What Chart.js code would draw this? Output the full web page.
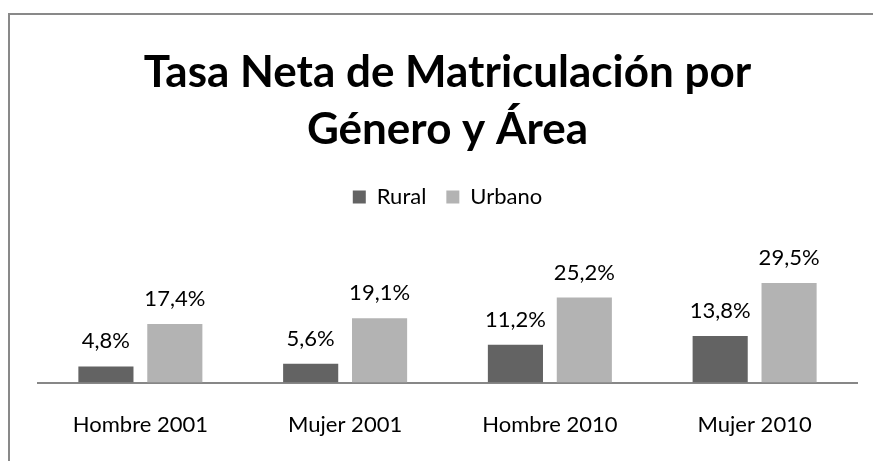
<!DOCTYPE html>
<html>
<head>
<meta charset="utf-8">
<script src="https://cdn.jsdelivr.net/npm/chart.js@4/dist/chart.umd.min.js"></script>
<style>
  html, body { margin: 0; padding: 0; background: #fff; }
  #wrap { position: relative; width: 873px; height: 461px; overflow: hidden; }
  #frame { position: absolute; left: 8px; top: 13px; width: 900px; height: 500px;
           border-left: 2px solid #898989; border-top: 2px solid #898989; }
  canvas { position: absolute; left: 0; top: 0; }
</style>
</head>
<body>
<div id="wrap">
  <div id="frame"></div>
  <canvas id="chart" width="873" height="461"></canvas>
</div>
<script>
const categories = ['Hombre 2001', 'Mujer 2001', 'Hombre 2010', 'Mujer 2010'];
const rural = [4.8, 5.6, 11.2, 13.8];
const urbano = [17.4, 19.1, 25.2, 29.5];

const FONT = 'Lato, "Open Sans", sans-serif';

// value labels above each bar
const valueLabels = {
  id: 'valueLabels',
  afterDatasetsDraw(chart) {
    const ctx = chart.ctx;
    ctx.save();
    ctx.font = '22px ' + FONT;
    ctx.fillStyle = '#000';
    ctx.textAlign = 'center';
    ctx.textBaseline = 'alphabetic';
    chart.data.datasets.forEach((ds, i) => {
      chart.getDatasetMeta(i).data.forEach((bar, j) => {
        const txt = ds.data[j].toFixed(1).replace('.', ',') + '%';
        ctx.fillText(txt, bar.x, bar.y - 18);
      });
    });
    ctx.restore();
  }
};

new Chart(document.getElementById('chart'), {
  type: 'bar',
  data: {
    labels: categories,
    datasets: [
      { label: 'Rural', data: rural, backgroundColor: '#636363' },
      { label: 'Urbano', data: urbano, backgroundColor: '#b3b3b3' }
    ]
  },
  options: {
    responsive: false,
    animation: false,
    // tick padding is counted twice by the x axis, hence the negative bottom
    layout: { padding: { left: 38, right: 16, top: 44, bottom: -6 } },
    datasets: { bar: { categoryPercentage: 0.673, barPercentage: 0.8 } },
    plugins: {
      title: {
        display: true,
        text: ['Tasa Neta de Matriculación por', 'Género y Área'],
        color: '#000',
        font: { family: FONT, size: 44, weight: 'bold', lineHeight: 57 / 44 },
        padding: { top: 0, bottom: 8 }
      },
      legend: {
        display: true,
        labels: {
          color: '#000',
          font: { family: FONT, size: 22 },
          boxWidth: 13,
          boxHeight: 13,
          padding: 20
        }
      },
      tooltip: { enabled: false }
    },
    scales: {
      x: {
        grid: { display: false, drawTicks: false },
        border: { display: true, color: '#878787', width: 2 },
        ticks: { color: '#000', font: { family: FONT, size: 22 }, padding: 29 }
      },
      y: {
        display: false,
        min: 0,
        max: 48.8
      }
    }
  },
  plugins: [valueLabels]
});
</script>
</body>
</html>
